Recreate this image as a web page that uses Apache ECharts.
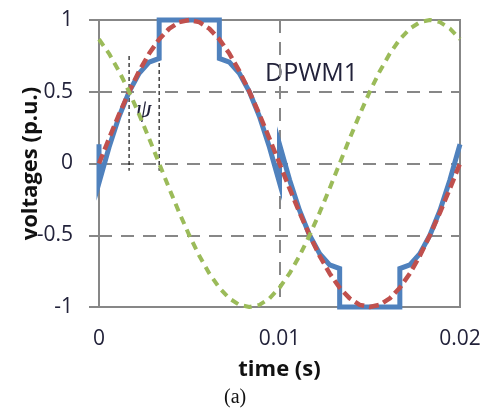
<!DOCTYPE html>
<html>
<head>
<meta charset="utf-8">
<script src="https://cdn.jsdelivr.net/npm/echarts@6/dist/echarts.min.js"></script>
<style>
html,body{margin:0;padding:0;background:#fff;}
#chart{width:489px;height:416px;}
</style>
</head>
<body>
<div id="chart"></div>
<script>
// time samples (s) for the sine references
var time = [0, 0.000556, 0.001111, 0.001667, 0.002222, 0.002778, 0.003333, 0.003889, 0.004444, 0.005,
  0.005556, 0.006111, 0.006667, 0.007222, 0.007778, 0.008333, 0.008889, 0.009444, 0.01,
  0.010556, 0.011111, 0.011667, 0.012222, 0.012778, 0.013333, 0.013889, 0.014444, 0.015,
  0.015556, 0.016111, 0.016667, 0.017222, 0.017778, 0.018333, 0.018889, 0.019444, 0.02];
// phase reference (red dashed)
var refA = [0, 0.174, 0.342, 0.5, 0.643, 0.766, 0.866, 0.94, 0.985, 1,
  0.985, 0.94, 0.866, 0.766, 0.643, 0.5, 0.342, 0.174, 0,
  -0.174, -0.342, -0.5, -0.643, -0.766, -0.866, -0.94, -0.985, -1,
  -0.985, -0.94, -0.866, -0.766, -0.643, -0.5, -0.342, -0.174, 0];
// shifted reference (green dashed)
var refC = [0.866, 0.766, 0.643, 0.5, 0.342, 0.174, 0, -0.174, -0.342, -0.5,
  -0.643, -0.766, -0.866, -0.94, -0.985, -1, -0.985, -0.94, -0.866,
  -0.766, -0.643, -0.5, -0.342, -0.174, 0, 0.174, 0.342, 0.5,
  0.643, 0.766, 0.866, 0.94, 0.985, 1, 0.985, 0.94, 0.866];
// DPWM1 modulating signal (blue solid)
var dpwmTime = [0, 0, 0.000556, 0.001111, 0.001667, 0.002222, 0.002778, 0.003333, 0.003333,
  0.006667, 0.006667, 0.007222, 0.007778, 0.008333, 0.008889, 0.009444, 0.01, 0.01,
  0.010556, 0.011111, 0.011667, 0.012222, 0.012778, 0.013333, 0.013333,
  0.016667, 0.016667, 0.017222, 0.017778, 0.018333, 0.018889, 0.019444, 0.02];
var dpwm = [0.134, -0.134, 0.113, 0.327, 0.5, 0.628, 0.706, 0.732, 1,
  1, 0.732, 0.706, 0.628, 0.5, 0.327, 0.113, -0.134, 0.134,
  -0.113, -0.327, -0.5, -0.628, -0.706, -0.732, -1,
  -1, -0.732, -0.706, -0.628, -0.5, -0.327, -0.113, 0.134];
// psi marker lines
var psiTimes = [0.001667, 0.003333];
var psiRange = [0.75, -0.05];
var xTicks = [0, 0.01, 0.02];
var yTicks = [-1, -0.5, 0, 0.5, 1];

function pairs(xs, ys) { return xs.map(function (x, i) { return [x, ys[i]]; }); }

var gray = '#878787';
var txt = '#22223a';
var font = 'Open Sans';

var psiSeries = psiTimes.map(function (t) {
  return {
    type: 'line', symbol: 'none', silent: true, z: 1,
    data: psiRange.map(function (v) { return [t, v]; }),
    lineStyle: { color: '#111', width: 1.2, type: [4, 3] }
  };
});

var chart = echarts.init(document.getElementById('chart'), null, { renderer: 'canvas' });
chart.setOption({
  animation: false,
  backgroundColor: '#fff',
  grid: { left: 99, right: 29, top: 20, bottom: 109, containLabel: false, outerBoundsMode: 'none',
    show: true, borderColor: gray, borderWidth: 2, backgroundColor: 'transparent' },
  xAxis: {
    type: 'value', min: xTicks[0], max: xTicks[xTicks.length - 1], interval: 0.01,
    name: 'time (s)', nameLocation: 'middle', nameGap: 52, nameMoveOverlap: false,
    nameTextStyle: { fontFamily: font, fontWeight: 'bold', fontSize: 22, color: '#111' },
    axisLine: { onZero: false, lineStyle: { color: gray, width: 2 } },
    axisTick: { show: false },
    axisLabel: { fontFamily: font, fontSize: 21, color: txt, margin: 22 },
    splitLine: { show: true, lineStyle: { color: gray, width: 2, type: [13, 9] } }
  },
  yAxis: {
    type: 'value', min: yTicks[0], max: yTicks[yTicks.length - 1], interval: 0.5,
    name: 'voltages (p.u.)', nameLocation: 'middle', nameGap: 57, nameMoveOverlap: false,
    nameTextStyle: { fontFamily: font, fontWeight: 'bold', fontSize: 22, color: '#111' },
    axisLine: { onZero: false, lineStyle: { color: gray, width: 2 } },
    axisTick: { show: true, length: 10, lineStyle: { color: gray, width: 2 } },
    axisLabel: { fontFamily: font, fontSize: 21, color: txt, margin: 26 },
    splitLine: { show: true, lineStyle: { color: gray, width: 2, type: [13, 9] } }
  },
  series: psiSeries.concat([
    {
      name: 'DPWM1', type: 'line', symbol: 'none', clip: false, z: 3,
      data: pairs(dpwmTime, dpwm),
      lineStyle: { color: '#4F81BD', width: 5, join: 'miter' }
    },
    {
      name: 'ref a', type: 'line', symbol: 'none', clip: false, z: 4,
      data: pairs(time, refA),
      lineStyle: { color: '#C0504D', width: 4.5, type: [10, 5] }
    },
    {
      name: 'ref c', type: 'line', symbol: 'none', clip: false, z: 5,
      data: pairs(time, refC),
      lineStyle: { color: '#9BBB59', width: 4, type: [8, 6] }
    }
  ]),
  graphic: [
    { type: 'text', left: 265, top: 61, style: { text: 'DPWM1', font: '25px "Open Sans"', fill: txt } },
    { type: 'text', left: 136, top: 98, style: { text: 'ψ', font: 'italic 25px "Liberation Serif"', fill: txt } },
    { type: 'text', left: 224, top: 388, style: { text: '(a)', font: '20px "Liberation Serif"', fill: '#111' } }
  ]
});
</script>
</body>
</html>
